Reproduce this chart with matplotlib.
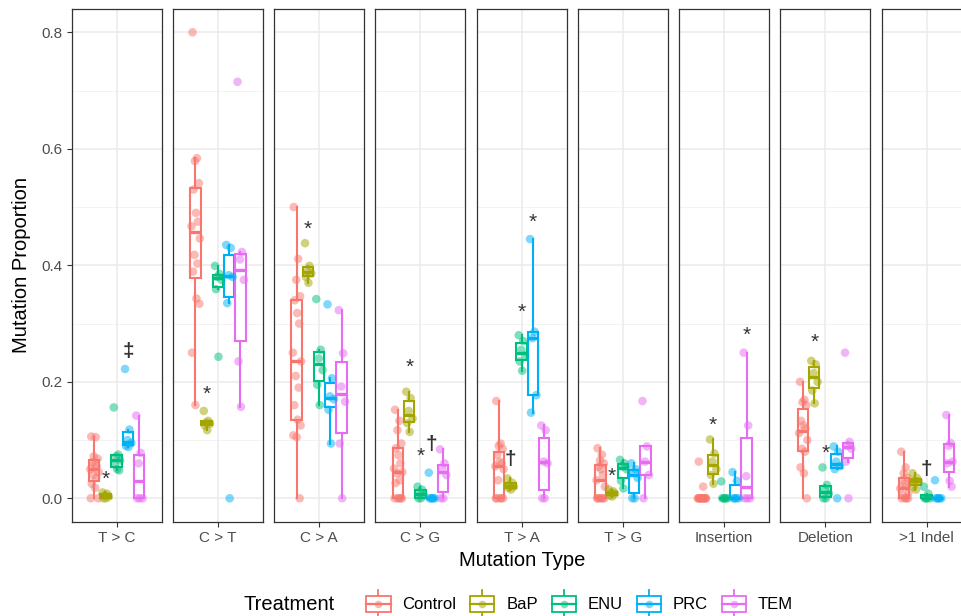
import matplotlib.pyplot as plt
from matplotlib.legend_handler import HandlerBase
from matplotlib.patches import Rectangle
from matplotlib.lines import Line2D

plt.rcParams['font.family'] = ['Liberation Sans', 'DejaVu Sans']

# Mutation types (facets) and treatments (dodged groups)
mutation_types = ["T > C", "C > T", "C > A", "C > G", "T > A", "T > G",
                  "Insertion", "Deletion", ">1 Indel"]
treatments = ["Control", "BaP", "ENU", "PRC", "TEM"]
colors = ["#F8766D", "#A3A500", "#00BF7D", "#00B0F6", "#E76BF3"]

# Mutation proportions, per treatment and mutation type
control = {
    "T > C": [0.106, 0.105, 0.072, 0.068, 0.062, 0.058, 0.055, 0.05, 0.045, 0.04,
              0.035, 0.025, 0.018, 0.0, 0.0],
    "C > T": [0.8, 0.584, 0.579, 0.541, 0.53, 0.49, 0.475, 0.467, 0.446, 0.418,
              0.403, 0.389, 0.343, 0.334, 0.25, 0.16],
    "C > A": [0.5, 0.411, 0.375, 0.347, 0.34, 0.318, 0.3, 0.25, 0.235, 0.21,
              0.19, 0.16, 0.135, 0.125, 0.108, 0.105, 0.0],
    "C > G": [0.152, 0.133, 0.117, 0.094, 0.086, 0.074, 0.06, 0.051, 0.045, 0.043,
              0.031, 0.026, 0.0, 0.0, 0.0, 0.0, 0.0],
    "T > A": [0.167, 0.094, 0.09, 0.085, 0.075, 0.063, 0.06, 0.055, 0.05, 0.031,
              0.0, 0.0, 0.0, 0.0, 0.0],
    "T > G": [0.086, 0.075, 0.065, 0.06, 0.054, 0.05, 0.04, 0.031, 0.02,
              0.0, 0.0, 0.0, 0.0, 0.0, 0.0],
    "Insertion": [0.063, 0.02, 0.0, 0.0, 0.0, 0.0, 0.0, 0.0, 0.0, 0.0, 0.0, 0.0,
                  0.0, 0.0, 0.0],
    "Deletion": [0.2, 0.169, 0.165, 0.16, 0.133, 0.125, 0.12, 0.112, 0.1, 0.085,
                 0.08, 0.053, 0.043, 0.0],
    ">1 Indel": [0.08, 0.053, 0.043, 0.035, 0.031, 0.025, 0.02, 0.017, 0.01, 0.005,
                 0.0, 0.0, 0.0, 0.0],
}
bap = {
    "T > C": [0.01, 0.008, 0.005, 0.003, 0.0, 0.0],
    "C > T": [0.15, 0.133, 0.13, 0.128, 0.125, 0.117],
    "C > A": [0.438, 0.399, 0.39, 0.386, 0.38, 0.37],
    "C > G": [0.183, 0.172, 0.15, 0.137, 0.129, 0.114],
    "T > A": [0.034, 0.027, 0.022, 0.02, 0.018, 0.015],
    "T > G": [0.015, 0.012, 0.01, 0.008, 0.005, 0.003],
    "Insertion": [0.101, 0.077, 0.063, 0.05, 0.04, 0.025],
    "Deletion": [0.236, 0.23, 0.215, 0.2, 0.185, 0.163],
    ">1 Indel": [0.043, 0.035, 0.03, 0.029, 0.02, 0.015],
}
enu = {
    "T > C": [0.156, 0.075, 0.072, 0.065, 0.058, 0.05, 0.048],
    "C > T": [0.399, 0.385, 0.38, 0.375, 0.359, 0.243],
    "C > A": [0.342, 0.255, 0.24, 0.22, 0.195, 0.16],
    "C > G": [0.02, 0.015, 0.01, 0.005, 0.0, 0.0],
    "T > A": [0.28, 0.27, 0.255, 0.245, 0.235, 0.219],
    "T > G": [0.066, 0.06, 0.055, 0.05, 0.03, 0.017],
    "Insertion": [0.029, 0.0, 0.0, 0.0, 0.0, 0.0],
    "Deletion": [0.053, 0.023, 0.015, 0.008, 0.0, 0.0],
    ">1 Indel": [0.02, 0.008, 0.0, 0.0, 0.0, 0.0],
}
prc = {
    "T > C": [0.222, 0.118, 0.1, 0.095, 0.09, 0.088],
    "C > T": [0.435, 0.43, 0.383, 0.38, 0.335, 0.0],
    "C > A": [0.333, 0.206, 0.175, 0.17, 0.152, 0.094],
    "C > G": [0.044, 0.0, 0.0, 0.0, 0.0, 0.0],
    "T > A": [0.445, 0.286, 0.275, 0.177, 0.147],
    "T > G": [0.06, 0.05, 0.045, 0.035, 0.0, 0.0],
    "Insertion": [0.045, 0.03, 0.0, 0.0, 0.0, 0.0],
    "Deletion": [0.089, 0.08, 0.063, 0.055, 0.05, 0.0],
    ">1 Indel": [0.031, 0.0, 0.0, 0.0, 0.0, 0.0],
}
tem = {
    "T > C": [0.142, 0.078, 0.06, 0.0, 0.0, 0.0],
    "C > T": [0.715, 0.423, 0.41, 0.375, 0.235, 0.157],
    "C > A": [0.323, 0.249, 0.192, 0.166, 0.094, 0.0],
    "C > G": [0.084, 0.06, 0.05, 0.04, 0.0, 0.0],
    "T > A": [0.125, 0.117, 0.063, 0.06, 0.0, 0.0],
    "T > G": [0.167, 0.089, 0.063, 0.04, 0.0],
    "Insertion": [0.25, 0.125, 0.038, 0.0, 0.0, 0.0],
    "Deletion": [0.25, 0.097, 0.09, 0.085, 0.063, 0.0],
    ">1 Indel": [0.143, 0.095, 0.09, 0.063, 0.06, 0.03, 0.02],
}
data = [control, bap, enu, prc, tem]

# Significance marks: (mutation type, treatment, symbol, y)
marks = [
    ("T > C", "BaP", "*", 0.033), ("T > C", "PRC", "\u2021", 0.252),
    ("C > T", "BaP", "*", 0.179),
    ("C > A", "BaP", "*", 0.462),
    ("C > G", "BaP", "*", 0.224), ("C > G", "ENU", "*", 0.072),
    ("C > G", "PRC", "\u2020", 0.092),
    ("T > A", "BaP", "\u2020", 0.066), ("T > A", "ENU", "*", 0.319),
    ("T > A", "PRC", "*", 0.473),
    ("T > G", "BaP", "*", 0.037),
    ("Insertion", "BaP", "*", 0.125), ("Insertion", "TEM", "*", 0.28),
    ("Deletion", "BaP", "*", 0.267), ("Deletion", "ENU", "*", 0.077),
    (">1 Indel", "ENU", "\u2020", 0.05),
]

jitter = [-0.6, 0.3, -0.1, 0.7, -0.4, 0.1, 0.5, -0.8, 0.9, -0.2,
          0.4, -0.5, 0.2, 0.8, -0.7, 0.0, 0.6, -0.3]

W, H = 961, 616
fig = plt.figure(figsize=(W / 100, H / 100), dpi=100)

grid_col = "#EBEBEB"
text_col = "#4D4D4D"
dodge = 0.15

for i, mt in enumerate(mutation_types):
    left = (71.7 + i * 101.25) / W
    ax = fig.add_axes([left, 1 - 521.6 / H, 90 / W, 512.6 / H])
    ax.set_xlim(0.4, 1.6)
    ax.set_ylim(-0.04, 0.84)
    for y in [0.1, 0.3, 0.5, 0.7]:
        ax.axhline(y, color="#F3F3F3", lw=0.7, zorder=0)
    for y in [0.0, 0.2, 0.4, 0.6, 0.8]:
        ax.axhline(y, color=grid_col, lw=1.1, zorder=0)
    ax.axvline(1.0, color=grid_col, lw=1.1, zorder=0)

    for j, (tr, c) in enumerate(zip(treatments, colors)):
        vals = data[j][mt]
        pos = 1 + (j - 2) * dodge
        ax.boxplot(vals, positions=[pos], widths=0.14, whis=1.5, showfliers=False,
                   patch_artist=True, manage_ticks=False,
                   boxprops=dict(facecolor="white", edgecolor=c, lw=1.5),
                   whiskerprops=dict(color=c, lw=1.5),
                   capprops=dict(lw=0),
                   medianprops=dict(color=c, lw=2.4),
                   zorder=2)
        xs = [pos + 0.065 * jitter[k % len(jitter)] for k in range(len(vals))]
        ax.scatter(xs, vals, s=38, color=c, alpha=0.5, edgecolors="none", zorder=3)

    for m_mt, m_tr, sym, y in marks:
        if m_mt == mt:
            pos = 1 + (treatments.index(m_tr) - 2) * dodge
            ax.text(pos, y, sym, ha="center", va="center", fontsize=15,
                    color="#333333", fontweight="bold" if sym != "*" else "normal",
                    zorder=4)

    ax.set_xticks([1.0])
    ax.set_xticklabels([mt], fontsize=11, color=text_col)
    ax.set_yticks([0.0, 0.2, 0.4, 0.6, 0.8])
    if i == 0:
        ax.set_yticklabels(["0.0", "0.2", "0.4", "0.6", "0.8"], fontsize=11,
                           color=text_col)
        ax.tick_params(axis="y", length=3.5, color="#333333", width=0.8, pad=3)
    else:
        ax.tick_params(axis="y", length=0, labelleft=False)
    ax.tick_params(axis="x", length=3.5, color="#333333", width=0.8, pad=3)
    for s in ax.spines.values():
        s.set_color("#333333")
        s.set_linewidth(0.9)

fig.text(521.9 / W, 1 - 561 / H, "Mutation Type", ha="center", va="center",
         fontsize=14.5)
fig.text(22 / W, 1 - 265 / H, "Mutation Proportion", ha="center", va="center",
         rotation=90, fontsize=14.5)


class BoxKey(HandlerBase):
    def create_artists(self, legend, orig_handle, xdescent, ydescent, width,
                       height, fontsize, trans):
        c = orig_handle.get_color()
        cx = -xdescent + width / 2
        y0 = -ydescent
        bw = width
        arts = [
            Line2D([cx, cx], [y0 - height * 0.35, y0 + height * 1.35], color=c, lw=1.3),
            Rectangle((cx - bw / 2, y0), bw, height,
                      facecolor="white", edgecolor=c, lw=1.3),
            Line2D([cx - bw / 2, cx + bw / 2], [y0 + height / 2] * 2, color=c, lw=1.6),
            Line2D([cx], [y0 + height / 2], marker="o", ms=5.5, color=c, alpha=0.5,
                   linestyle="none", markeredgewidth=0),
        ]
        for a in arts:
            a.set_transform(trans)
        return arts


handles = [Line2D([], [], color=c) for c in colors]
fig.text(244 / W, 1 - 605 / H, "Treatment", ha="left", va="center", fontsize=14.5)
fig.legend(handles, treatments, ncol=5, loc="center left",
           bbox_to_anchor=(358 / W, 1 - 604 / H), frameon=False, fontsize=12,
           handler_map={Line2D: BoxKey()}, handlelength=1.45, handleheight=1.1,
           handletextpad=0.7, columnspacing=0.85, borderpad=0)

fig.savefig("out.png", dpi=100)
